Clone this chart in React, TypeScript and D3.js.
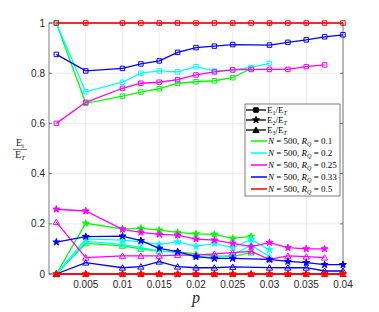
import React from 'react';
import * as d3 from 'd3';

// p values (x axis)
const P_ALL = [0.001, 0.005, 0.01, 0.0125, 0.015, 0.0175, 0.02, 0.0225, 0.025, 0.0275, 0.03, 0.0325, 0.035, 0.0375, 0.04];
const P_GREEN = P_ALL.slice(0, 10);
const P_CYAN = P_ALL.slice(0, 11);
const P_MAGENTA = P_ALL.slice(0, 14);
const P_BLUE = [0.001, 0.005, 0.01, 0.0125, 0.015, 0.0175, 0.02, 0.0225, 0.025, 0.03, 0.0325, 0.035, 0.0375, 0.04];

// R_Q = 0.1
const E1_GREEN = [1.0, 0.68, 0.709, 0.725, 0.738, 0.76, 0.766, 0.77, 0.782, 0.819];
const E2_GREEN = [0, 0.202, 0.18, 0.182, 0.175, 0.166, 0.16, 0.158, 0.142, 0.15];
const E3_GREEN = [0, 0.122, 0.112, 0.1, 0.09, 0.088, 0.08, 0.072, 0.07, 0.085];
// R_Q = 0.2
const E1_CYAN = [1.0, 0.726, 0.764, 0.8, 0.809, 0.805, 0.826, 0.809, 0.813, 0.823, 0.839];
const E2_CYAN = [0, 0.14, 0.135, 0.128, 0.118, 0.128, 0.11, 0.122, 0.105, 0.138, 0.096];
const E3_CYAN = [0, 0.13, 0.118, 0.105, 0.092, 0.085, 0.07, 0.065, 0.075, 0.115, 0.07];
// R_Q = 0.25
const E1_MAGENTA = [0.6, 0.684, 0.74, 0.76, 0.764, 0.774, 0.793, 0.805, 0.813, 0.815, 0.815, 0.815, 0.826, 0.833];
const E2_MAGENTA = [0.258, 0.251, 0.178, 0.166, 0.158, 0.155, 0.139, 0.135, 0.122, 0.109, 0.125, 0.105, 0.1, 0.1];
const E3_MAGENTA = [0.207, 0.065, 0.072, 0.072, 0.072, 0.075, 0.075, 0.08, 0.085, 0.09, 0.058, 0.072, 0.069, 0.065];
// R_Q = 0.33
const E1_BLUE = [0.875, 0.809, 0.819, 0.837, 0.849, 0.883, 0.902, 0.908, 0.914, 0.912, 0.923, 0.933, 0.945, 0.953];
const E2_BLUE = [0.127, 0.149, 0.151, 0.133, 0.102, 0.089, 0.069, 0.062, 0.062, 0.058, 0.05, 0.045, 0.037, 0.037];
const E3_BLUE = [0, 0.045, 0.025, 0.029, 0.049, 0.029, 0.025, 0.025, 0.028, 0.025, 0.025, 0.025, 0.012, 0.012];
// R_Q = 0.5
const E1_RED = P_ALL.map(() => 1);
const E2_RED = P_ALL.map(() => 0);
const E3_RED = P_ALL.map(() => 0);

const X_TICKS = [0.005, 0.01, 0.015, 0.02, 0.025, 0.03, 0.035, 0.04];
const X_TICK_LABELS = ['0.005', '0.01', '0.015', '0.02', '0.025', '0.03', '0.035', '0.04'];
const Y_TICKS = [0, 0.2, 0.4, 0.6, 0.8, 1];
const Y_TICK_LABELS = ['0', '0.2', '0.4', '0.6', '0.8', '1'];

const SERIES = [
  { rq: '0.1', color: '#00ff00', p: P_GREEN, e: [E1_GREEN, E2_GREEN, E3_GREEN] },
  { rq: '0.2', color: '#00ffff', p: P_CYAN, e: [E1_CYAN, E2_CYAN, E3_CYAN] },
  { rq: '0.25', color: '#ff00ff', p: P_MAGENTA, e: [E1_MAGENTA, E2_MAGENTA, E3_MAGENTA] },
  { rq: '0.33', color: '#0000ff', p: P_BLUE, e: [E1_BLUE, E2_BLUE, E3_BLUE] },
  { rq: '0.5', color: '#ff0000', p: P_ALL, e: [E1_RED, E2_RED, E3_RED] },
];

const W = 379;
const H = 312;
const M = { left: 49, right: 343, top: 23, bottom: 274 };

const x = d3.scaleLinear().domain([0, 0.04]).range([M.left, M.right]);
const y = d3.scaleLinear().domain([0, 1]).range([M.bottom, M.top]);

const SYMBOLS = [d3.symbolSquare, d3.symbolStar, d3.symbolTriangle];
const SYM_SIZE = [20, 15, 17];
const AXIS = '#262626';
const SERIF = '"Liberation Serif", "DejaVu Serif", serif';
const SANS = '"Liberation Sans", Arial, sans-serif';

const Marker: React.FC<{ kind: number; cx: number; cy: number; color: string; legend?: boolean }> = ({ kind, cx, cy, color, legend }) => {
  const path = d3.symbol().type(SYMBOLS[kind]).size(SYM_SIZE[kind])() || '';
  const filled = kind === 1 || legend;
  return (
    <path
      d={path}
      transform={`translate(${cx},${cy + (kind === 2 ? 0.6 : 0)})`}
      fill={filled ? color : 'none'}
      stroke={color}
      strokeWidth={1}
    />
  );
};

const App: React.FC = () => {
  const line = d3.line<[number, number]>().x(d => x(d[0])).y(d => y(d[1]));

  // legend row layout
  const lgX = 245;
  const lgY = 104;
  const lgW = 95;
  const lgH = 92;
  const rowY = [6, 16, 26, 37, 49, 61, 73, 85];

  return (
    <div style={{ position: 'fixed', left: 0, top: 0 }}>
      <svg width={W} height={H} style={{ display: 'block', background: '#fff' }}>
        {/* grid */}
        {X_TICKS.map(t => (
          <line key={'gx' + t} x1={x(t)} x2={x(t)} y1={M.top} y2={M.bottom} stroke="#e6e6e6" strokeWidth={0.8} />
        ))}
        {Y_TICKS.map(t => (
          <line key={'gy' + t} x1={M.left} x2={M.right} y1={y(t)} y2={y(t)} stroke="#e6e6e6" strokeWidth={0.8} />
        ))}

        {/* axes box */}
        <rect x={M.left} y={M.top} width={M.right - M.left} height={M.bottom - M.top} fill="none" stroke={AXIS} strokeWidth={0.6} />
        {X_TICKS.map(t => (
          <g key={'xt' + t}>
            <line x1={x(t)} x2={x(t)} y1={M.bottom} y2={M.bottom - 3} stroke={AXIS} strokeWidth={0.6} />
            <line x1={x(t)} x2={x(t)} y1={M.top} y2={M.top + 3} stroke={AXIS} strokeWidth={0.6} />
          </g>
        ))}
        {Y_TICKS.map(t => (
          <g key={'yt' + t}>
            <line x1={M.left} x2={M.left + 3} y1={y(t)} y2={y(t)} stroke={AXIS} strokeWidth={0.6} />
            <line x1={M.right} x2={M.right - 3} y1={y(t)} y2={y(t)} stroke={AXIS} strokeWidth={0.6} />
          </g>
        ))}

        {/* tick labels */}
        {X_TICKS.map((t, i) => (
          <text key={'xl' + t} x={x(t)} y={M.bottom + 14} textAnchor="middle" fontFamily={SANS} fontSize={10} fill={AXIS}>
            {X_TICK_LABELS[i]}
          </text>
        ))}
        {Y_TICKS.map((t, i) => (
          <text key={'yl' + t} x={M.left - 4} y={y(t) + 3.5} textAnchor="end" fontFamily={SANS} fontSize={10} fill={AXIS}>
            {Y_TICK_LABELS[i]}
          </text>
        ))}

        {/* axis labels */}
        <text x={(M.left + M.right) / 2} y={303} textAnchor="middle" fontFamily={SERIF} fontStyle="italic" fontSize={16} fill={AXIS}>
          p
        </text>
        <g fontFamily={SERIF} fontSize={10} fill={AXIS}>
          <text x={20} y={146} textAnchor="middle">
            E<tspan fontSize={7} dy={2}>i</tspan>
          </text>
          <line x1={13} x2={27} y1={149.5} y2={149.5} stroke={AXIS} strokeWidth={0.6} />
          <text x={20} y={158} textAnchor="middle">
            E<tspan fontSize={7} fontStyle="italic" dy={2}>T</tspan>
          </text>
        </g>

        {/* data */}
        {SERIES.map(s => (
          <g key={s.rq}>
            {s.e.map((vals, k) => (
              <g key={k}>
                <path
                  d={line(s.p.map((p, i) => [p, vals[i]] as [number, number])) || ''}
                  fill="none"
                  stroke={s.color}
                  strokeWidth={1.3}
                />
                {s.p.map((p, i) => (
                  <Marker key={i} kind={k} cx={x(p)} cy={y(vals[i])} color={s.color} />
                ))}
              </g>
            ))}
          </g>
        ))}

        {/* legend */}
        <rect x={lgX} y={lgY} width={lgW} height={lgH} fill="#fff" stroke={AXIS} strokeWidth={0.6} />
        {['1', '2', '3'].map((sub, k) => (
          <g key={'le' + k}>
            <line x1={lgX + 1} x2={lgX + 21} y1={lgY + rowY[k]} y2={lgY + rowY[k]} stroke="#000" strokeWidth={1.3} />
            <Marker kind={k} cx={lgX + 11} cy={lgY + rowY[k]} color="#000" legend />
            <text x={lgX + 22} y={lgY + rowY[k] + 3} fontFamily={SERIF} fontSize={9} fill="#000">
              E<tspan fontSize={6} dy={1.5}>{sub}</tspan>
              <tspan dy={-1.5}>/E</tspan>
              <tspan fontSize={6} fontStyle="italic" dy={1.5}>T</tspan>
            </text>
          </g>
        ))}
        {SERIES.map((s, j) => {
          const ry = lgY + rowY[j + 3];
          return (
            <g key={'ls' + s.rq}>
              <line x1={lgX + 6} x2={lgX + 22} y1={ry} y2={ry} stroke={s.color} strokeWidth={1.5} />
              <text x={lgX + 23} y={ry + 3} fontFamily={SERIF} fontSize={9} fill="#000">
                <tspan fontStyle="italic">N</tspan> = 500, <tspan fontStyle="italic">R</tspan>
                <tspan fontSize={6} fontStyle="italic" dy={1.5}>Q</tspan>
                <tspan dy={-1.5}> = {s.rq}</tspan>
              </text>
            </g>
          );
        })}
      </svg>
    </div>
  );
};

export default App;
